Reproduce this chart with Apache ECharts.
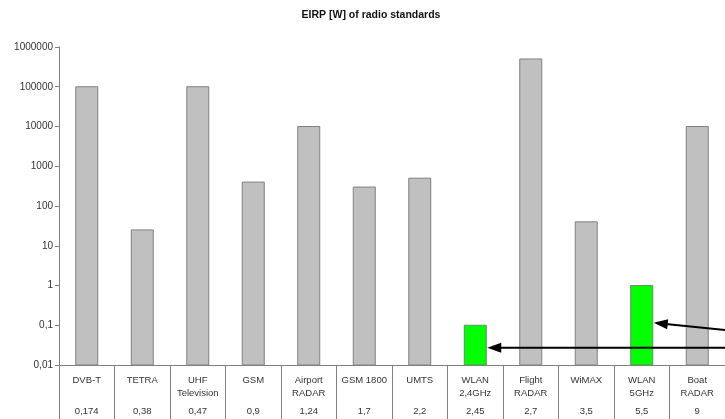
<!DOCTYPE html>
<html>
<head>
<meta charset="utf-8">
<script src="https://cdn.jsdelivr.net/npm/echarts@6/dist/echarts.min.js"></script>
<style>html,body{margin:0;padding:0;background:#fff}#c{width:725px;height:419px}</style>
</head>
<body>
<div id="c"></div>
<script>
const titleText = 'EIRP [W] of radio standards';
const categories = ['DVB-T', 'TETRA', 'UHF\nTelevision', 'GSM', 'Airport\nRADAR', 'GSM 1800', 'UMTS', 'WLAN\n2,4GHz', 'Flight\nRADAR', 'WiMAX', 'WLAN\n5GHz', 'Boat\nRADAR'];
const frequencies = ['0,174', '0,38', '0,47', '0,9', '1,24', '1,7', '2,2', '2,45', '2,7', '3,5', '5,5', '9'];
const eirp = [100000, 25, 100000, 400, 10000, 300, 500, 0.1, 500000, 40, 1, 10000];
const highlighted = [false, false, false, false, false, false, false, true, false, false, true, false];
// arrows: [target category index, tip value, tail value at right edge]
const arrows = [[7, 0.027, 0.027], [10, 0.115, 0.076]];
const yMin = 0.01, yMax = 1000000;

const chart = echarts.init(document.getElementById('c'));
const FONT = '"Liberation Sans", Arial, sans-serif';

function fmtNum(v) {
  return String(Number(Number(v).toPrecision(6))).replace('.', ',');
}

chart.setOption({
  animation: false,
  title: {
    text: titleText, left: 366, top: 5, textAlign: 'center',
    textStyle: { fontFamily: FONT, fontSize: 10.5, fontWeight: 'bold', color: '#111' }
  },
  grid: { left: 59, top: 47, width: 670, height: 318, containLabel: false },
  xAxis: {
    type: 'category', data: categories,
    axisLine: { lineStyle: { color: '#808080', width: 1 } },
    axisTick: { show: true, interval: 0, length: 56, lineStyle: { color: '#808080' } },
    axisLabel: {
      interval: 0, margin: 9, color: '#333', fontFamily: FONT, fontSize: 9,
      formatter: function (v, i) {
        const parts = v.split('\n');
        const l1 = parts[0], l2 = parts[1] || ' ';
        return '{a|' + l1 + '}\n{a|' + l2 + '}\n{b|' + frequencies[i] + '}';
      },
      rich: {
        a: { fontFamily: FONT, fontSize: 9.5, lineHeight: 13, color: '#333' },
        b: { fontFamily: FONT, fontSize: 9.5, lineHeight: 22, color: '#333' }
      }
    }
  },
  yAxis: {
    type: 'log', logBase: 10, min: yMin, max: yMax,
    axisLine: { show: true, lineStyle: { color: '#808080', width: 1 } },
    axisTick: { show: true, length: 4, lineStyle: { color: '#808080' } },
    splitLine: { show: false },
    minorTick: { show: false },
    axisLabel: { margin: 6, color: '#333', fontFamily: FONT, fontSize: 10, formatter: fmtNum }
  },
  series: [{
    type: 'custom',
    data: eirp.map(function (v, i) { return [i, v]; }),
    encode: { x: 0, y: 1 },
    renderItem: function (params, api) {
      const i = api.value(0);
      const top = api.coord([i, api.value(1)]);
      const base = api.coord([i, yMin]);
      const w = 22;
      const hl = highlighted[params.dataIndex];
      return {
        type: 'rect',
        shape: { x: top[0] - w / 2, y: top[1], width: w, height: base[1] - top[1] },
        style: hl
          ? { fill: '#00ff00', stroke: '#6a8a6a', lineWidth: 1 }
          : { fill: '#c0c0c0', stroke: '#808080', lineWidth: 1 }
      };
    }
  }]
});

// Arrows drawn through the library's coordinate conversion
const elements = [];
arrows.forEach(function (a) {
  const tip = chart.convertToPixel({ gridIndex: 0 }, [a[0], a[1]]);
  const tail = chart.convertToPixel({ gridIndex: 0 }, [a[0], a[2]]);
  const tipX = tip[0] + 12;
  const tipY = tip[1];
  const tailX = 725;
  const tailY = tail[1];
  const ang = Math.atan2(tailY - tipY, tailX - tipX);
  const hl = 14, hw = 5;
  const bx = tipX + Math.cos(ang) * hl, by = tipY + Math.sin(ang) * hl;
  const px = -Math.sin(ang) * hw, py = Math.cos(ang) * hw;
  elements.push({
    type: 'line', shape: { x1: bx - Math.cos(ang) * 2, y1: by - Math.sin(ang) * 2, x2: tailX, y2: tailY },
    style: { stroke: '#000', lineWidth: 2 }, z: 100
  });
  elements.push({
    type: 'polygon', shape: { points: [[tipX, tipY], [bx + px, by + py], [bx - px, by - py]] },
    style: { fill: '#000' }, z: 100
  });
});
chart.setOption({ graphic: elements });
</script>
</body>
</html>
